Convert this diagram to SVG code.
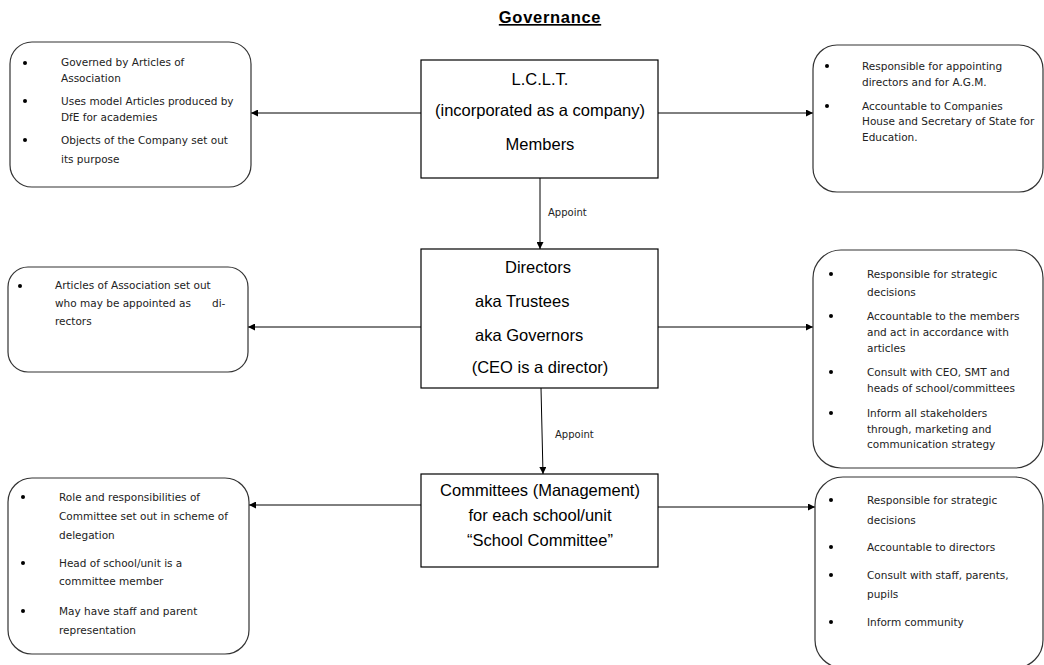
<svg xmlns="http://www.w3.org/2000/svg" width="1044" height="665" viewBox="0 0 1044 665">
<defs>
<marker id="arr" viewBox="0 0 10 10" refX="10" refY="5" markerWidth="7" markerHeight="7" markerUnits="userSpaceOnUse" orient="auto">
<path d="M0,0 L10,5 L0,10 z" fill="#000"/>
</marker>
<style>
.main{fill:#fff;stroke:#000;stroke-width:1.2}
.note{fill:#fff;stroke:#333;stroke-width:1.2}
.big{font-family:"Liberation Sans",Arial,sans-serif;font-size:16.5px;fill:#000}
.sm{font-family:"DejaVu Sans",Verdana,sans-serif;font-size:10.5px;fill:#222}
.lbl{font-family:"DejaVu Sans",Verdana,sans-serif;font-size:10px;fill:#222}
.conn line{stroke:#000;stroke-width:1;marker-end:url(#arr)}
.dot{fill:#000}
</style>
</defs>
<rect width="1044" height="665" fill="#fff"/>
<text x="550" y="23" text-anchor="middle" font-family="Liberation Sans,Arial,sans-serif" font-size="16.5" font-weight="bold" letter-spacing="0.7" text-decoration="underline">Governance</text>

<g id="connectors" class="conn">
<line x1="421" y1="113" x2="251" y2="113"/>
<line x1="658" y1="113" x2="813" y2="113"/>
<line x1="540" y1="178" x2="540" y2="249"/>
<line x1="421" y1="327" x2="248" y2="327"/>
<line x1="658" y1="327" x2="813" y2="327"/>
<line x1="541" y1="388" x2="543" y2="474"/>
<line x1="421" y1="505" x2="249" y2="505"/>
<line x1="658" y1="507" x2="815" y2="507"/>
</g>
<text class="lbl" x="548" y="216">Appoint</text>
<text class="lbl" x="555" y="438">Appoint</text>

<g id="lclt">
<rect class="main" x="421" y="60" width="237" height="118"/>
<text class="big" x="540" y="85" text-anchor="middle">L.C.L.T.</text>
<text class="big" x="540" y="116" text-anchor="middle">(incorporated as a company)</text>
<text class="big" x="540" y="150" text-anchor="middle">Members</text>
</g>

<g id="directors">
<rect class="main" x="421" y="249" width="237" height="139"/>
<text class="big" x="538" y="273" text-anchor="middle">Directors</text>
<text class="big" x="475" y="307">aka Trustees</text>
<text class="big" x="475" y="341">aka Governors</text>
<text class="big" x="540" y="373" text-anchor="middle">(CEO is a director)</text>
</g>

<g id="committees">
<rect class="main" x="421" y="474" width="237" height="93"/>
<text class="big" x="540" y="496" text-anchor="middle">Committees (Management)</text>
<text class="big" x="540" y="521" text-anchor="middle">for each school/unit</text>
<text class="big" x="540" y="546" text-anchor="middle">“School Committee”</text>
</g>

<g id="note-lclt-left">
<rect class="note" x="10" y="42" width="241" height="145" rx="22"/>
<circle class="dot" cx="25" cy="63" r="2"/>
<circle class="dot" cx="25" cy="101" r="2"/>
<circle class="dot" cx="25" cy="140" r="2"/>
<text class="sm" x="61" y="66">Governed by Articles of</text>
<text class="sm" x="61" y="82">Association</text>
<text class="sm" x="61" y="105">Uses model Articles produced by</text>
<text class="sm" x="61" y="121">DfE for academies</text>
<text class="sm" x="61" y="144">Objects of the Company set out</text>
<text class="sm" x="61" y="163">its purpose</text>
</g>

<g id="note-lclt-right">
<rect class="note" x="813" y="45" width="230" height="147" rx="24"/>
<circle class="dot" cx="827" cy="66" r="2"/>
<circle class="dot" cx="827" cy="106" r="2"/>
<text class="sm" x="862" y="70">Responsible for appointing</text>
<text class="sm" x="862" y="86">directors and for A.G.M.</text>
<text class="sm" x="862" y="110">Accountable to Companies</text>
<text class="sm" x="862" y="125">House and Secretary of State for</text>
<text class="sm" x="862" y="141">Education.</text>
</g>

<g id="note-directors-left">
<rect class="note" x="8" y="267" width="240" height="105" rx="20"/>
<circle class="dot" cx="20" cy="286" r="2"/>
<text class="sm" x="55" y="289">Articles of Association set out</text>
<text class="sm" x="55" y="307">who may be appointed as</text>
<text class="sm" x="212" y="307">di-</text>
<text class="sm" x="55" y="325">rectors</text>
</g>

<g id="note-directors-right">
<rect class="note" x="813" y="250" width="230" height="218" rx="28"/>
<circle class="dot" cx="831" cy="274" r="2"/>
<circle class="dot" cx="831" cy="316" r="2"/>
<circle class="dot" cx="831" cy="372" r="2"/>
<circle class="dot" cx="831" cy="413" r="2"/>
<text class="sm" x="867" y="278">Responsible for strategic</text>
<text class="sm" x="867" y="296">decisions</text>
<text class="sm" x="867" y="320">Accountable to the members</text>
<text class="sm" x="867" y="336">and act in accordance with</text>
<text class="sm" x="867" y="352">articles</text>
<text class="sm" x="867" y="376">Consult with CEO, SMT and</text>
<text class="sm" x="867" y="392">heads of school/committees</text>
<text class="sm" x="867" y="417">Inform all stakeholders</text>
<text class="sm" x="867" y="433">through, marketing and</text>
<text class="sm" x="867" y="448">communication strategy</text>
</g>

<g id="note-committees-left">
<rect class="note" x="8" y="478" width="241" height="176" rx="24"/>
<circle class="dot" cx="23" cy="497" r="2"/>
<circle class="dot" cx="23" cy="563" r="2"/>
<circle class="dot" cx="23" cy="611" r="2"/>
<text class="sm" x="59" y="501">Role and responsibilities of</text>
<text class="sm" x="59" y="520">Committee set out in scheme of</text>
<text class="sm" x="59" y="539">delegation</text>
<text class="sm" x="59" y="567">Head of school/unit is a</text>
<text class="sm" x="59" y="585">committee member</text>
<text class="sm" x="59" y="615">May have staff and parent</text>
<text class="sm" x="59" y="634">representation</text>
</g>

<g id="note-committees-right">
<rect class="note" x="815" y="477" width="228" height="191" rx="28"/>
<circle class="dot" cx="831" cy="500" r="2"/>
<circle class="dot" cx="831" cy="547" r="2"/>
<circle class="dot" cx="831" cy="575" r="2"/>
<circle class="dot" cx="831" cy="622" r="2"/>
<text class="sm" x="867" y="504">Responsible for strategic</text>
<text class="sm" x="867" y="524">decisions</text>
<text class="sm" x="867" y="551">Accountable to directors</text>
<text class="sm" x="867" y="579">Consult with staff, parents,</text>
<text class="sm" x="867" y="598">pupils</text>
<text class="sm" x="867" y="626">Inform community</text>
</g>
</svg>
